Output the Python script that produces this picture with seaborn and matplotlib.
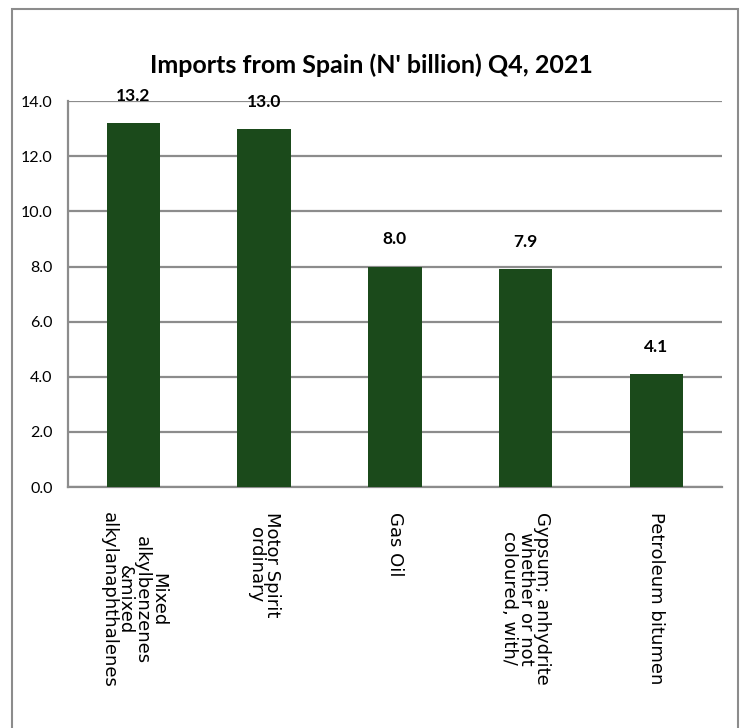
import matplotlib
matplotlib.use("Agg")
import matplotlib.pyplot as plt
import matplotlib.patches as patches
import seaborn as sns
import pandas as pd

# Chart data
categories = [
    "Mixed\nalkylbenzenes\n&mixed\nalkylanaphthalenes",
    "Motor Spirit\nordinary",
    "Gas Oil",
    "Gypsum; anhydrite\nwhether or not\ncoloured, with/",
    "Petroleum bitumen",
]
values = [13.2, 13.0, 8.0, 7.9, 4.1]
yticks = [0, 2, 4, 6, 8, 10, 12, 14]

df = pd.DataFrame({"item": categories, "value": values})

sns.set_style("white")
narrow = ["Lato", "DejaVu Sans"]
plt.rcParams["font.family"] = ["DejaVu Sans"]
plt.rcParams["text.color"] = "black"
plt.rcParams["xtick.color"] = "black"
plt.rcParams["ytick.color"] = "black"

fig = plt.figure(figsize=(7.43, 7.28), dpi=100)
ax = fig.add_axes([0.0915, 0.331, 0.88, 0.53])

sns.barplot(data=df, x="item", y="value", color="#1b4a1b", width=0.41,
            saturation=1, linewidth=0, ax=ax, zorder=3)

ax.set_ylim(0, 14)
ax.set_yticks(yticks)
ax.set_yticklabels([f"{v:.1f}" for v in yticks], family=narrow, fontsize=11.5)
ax.yaxis.grid(True, color="#8c8c8c", linewidth=1.6, zorder=1)
ax.set_axisbelow(True)
ax.set_xlabel("")
ax.set_ylabel("")
ax.tick_params(axis="y", length=0, pad=11)

ax.set_xticks(range(len(categories)))
ax.set_xticklabels(categories, rotation=270, fontsize=13, va="top",
                   ha="center", multialignment="center", linespacing=0.88,
                   family="DejaVu Sans")
ax.tick_params(axis="x", length=0, pad=18)

for s in ["top", "right"]:
    ax.spines[s].set_visible(False)
for s in ["left", "bottom"]:
    ax.spines[s].set_color("#8c8c8c")
    ax.spines[s].set_linewidth(1.6)

# value labels
for i, v in enumerate(values):
    ax.annotate(f"{v:.1f}", (i, v), xytext=(0, 19.5), textcoords="offset points",
                ha="center", va="center", fontsize=12.5, fontweight="bold",
                family=narrow)

fig.text(0.5, 0.91, "Imports from Spain (N' billion) Q4, 2021", ha="center",
         va="center", fontsize=18, fontweight="bold", family=narrow)

# outer frame
fig.patches.append(patches.Rectangle((0.016, -0.05), 0.977, 1.038,
                                     transform=fig.transFigure, fill=False,
                                     edgecolor="#8c8c8c", linewidth=1.5))

fig.savefig("out.png", dpi=100)
